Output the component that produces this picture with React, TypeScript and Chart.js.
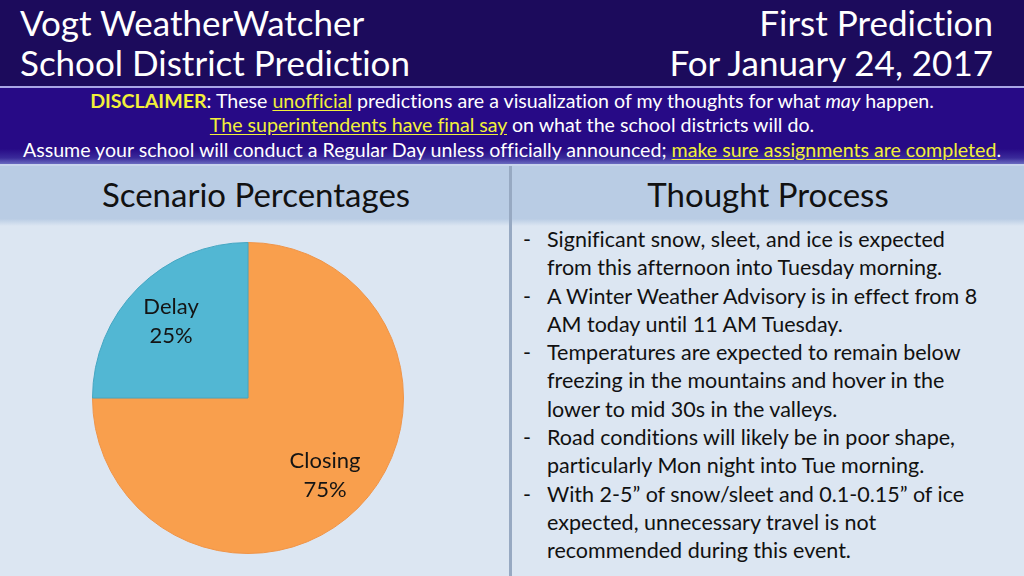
import React, { useEffect, useRef } from 'react';
import { Chart, registerables } from 'chart.js';

Chart.register(...registerables);

const categories = ['Closing', 'Delay'];
const values = [75, 25];
const sliceColors = ['#f99f4d', '#52b7d3'];
const sliceBorders = ['#ef9448', '#45a6c2'];

const titleLeft = ['Vogt WeatherWatcher', 'School District Prediction'];
const titleRight = ['First Prediction', 'For January 24, 2017'];
const panelTitles = ['Scenario Percentages', 'Thought Process'];
const bullets = [
  ['Significant snow, sleet, and ice is expected', 'from this afternoon into Tuesday morning.'],
  ['A Winter Weather Advisory is in effect from 8', 'AM today until 11 AM Tuesday.'],
  ['Temperatures are expected to remain below', 'freezing in the mountains and hover in the', 'lower to mid 30s in the valleys.'],
  ['Road conditions will likely be in poor shape,', 'particularly Mon night into Tue morning.'],
  ['With 2-5\u201d of snow/sleet and 0.1-0.15\u201d of ice', 'expected, unnecessary travel is not', 'recommended during this event.'],
];

const FONT = 'Lato, "Open Sans", sans-serif';
const YEL = '#f2f03a';

const sliceLabels = {
  id: 'sliceLabels',
  afterDatasetsDraw(chart: any) {
    const ctx = chart.ctx;
    const meta = chart.getDatasetMeta(0);
    ctx.save();
    ctx.fillStyle = '#141414';
    ctx.font = `22px ${FONT}`;
    ctx.textAlign = 'center';
    ctx.textBaseline = 'middle';
    meta.data.forEach((arc: any, i: number) => {
      const p = arc.getProps(['x', 'y', 'startAngle', 'endAngle', 'outerRadius'], true);
      const mid = (p.startAngle + p.endAngle) / 2;
      const r = p.outerRadius * 0.7;
      const cx = p.x + Math.cos(mid) * r;
      const cy = p.y + Math.sin(mid) * r;
      ctx.fillText(String(chart.data.labels[i]), cx, cy - 14);
      ctx.fillText(`${chart.data.datasets[0].data[i]}%`, cx, cy + 15);
    });
    ctx.restore();
  },
};

function PieChart() {
  const ref = useRef<HTMLCanvasElement | null>(null);
  useEffect(() => {
    if (!ref.current) return;
    const chart = new Chart(ref.current, {
      type: 'pie',
      data: {
        labels: categories,
        datasets: [
          {
            data: values,
            backgroundColor: sliceColors,
            borderColor: sliceBorders,
            borderWidth: 1,
          },
        ],
      },
      options: {
        animation: false,
        responsive: false,
        layout: { padding: 4 },
        plugins: { legend: { display: false }, tooltip: { enabled: false } },
      },
      plugins: [sliceLabels],
    });
    return () => chart.destroy();
  }, []);
  return (
    <canvas
      ref={ref}
      width={320}
      height={320}
      style={{ position: 'absolute', left: 88, top: 238, width: 320, height: 320 }}
    />
  );
}

const U = ({ children }: { children: React.ReactNode }) => (
  <span style={{ color: YEL, textDecoration: 'underline', textUnderlineOffset: 2 }}>{children}</span>
);

export default function App() {
  return (
    <div
      style={{
        position: 'fixed',
        left: 0,
        top: 0,
        width: 1024,
        height: 576,
        overflow: 'hidden',
        fontFamily: FONT,
        fontVariantLigatures: 'none',
        background: '#dce6f2',
      }}
    >
      {/* top header */}
      <div style={{ position: 'absolute', left: 0, top: 0, width: 1024, height: 86, background: '#1c0b5c' }} />
      <div style={{ position: 'absolute', left: 0, top: 86, width: 1024, height: 2, background: '#a9a6e6' }} />
      <div
        style={{
          position: 'absolute',
          left: 0,
          top: 88,
          width: 1024,
          height: 76,
          background: 'linear-gradient(#270a86 0%, #270a86 80%, #3a2a9a 92%, #6a6ac0 100%)',
        }}
      />
      <div style={{ position: 'absolute', left: 0, top: 164, width: 1024, height: 2, background: '#c8d4ec' }} />
      <div style={{ position: 'absolute', left: 20, top: 2, color: '#fff', fontSize: 35, lineHeight: '40px', whiteSpace: 'nowrap' }}>
        {titleLeft.map((t) => (
          <div key={t}>{t}</div>
        ))}
      </div>
      <div
        style={{
          position: 'absolute',
          right: 31,
          top: 2,
          color: '#fff',
          fontSize: 35,
          lineHeight: '40px',
          textAlign: 'right',
          whiteSpace: 'nowrap',
        }}
      >
        {titleRight.map((t) => (
          <div key={t}>{t}</div>
        ))}
      </div>
      {/* disclaimer */}
      <div
        style={{
          position: 'absolute',
          left: 0,
          top: 88.5,
          width: 1024,
          textAlign: 'center',
          color: '#fff',
          fontSize: 19.6,
          lineHeight: '24.7px',
          whiteSpace: 'nowrap',
        }}
      >
        <div>
          <b style={{ color: YEL }}>DISCLAIMER</b>: These <U>unofficial</U> predictions are a visualization of my thoughts
          for what <i>may</i> happen.
        </div>
        <div>
          <U>The superintendents have final say</U> on what the school districts will do.
        </div>
        <div>
          Assume your school will conduct a Regular Day unless officially announced; <U>make sure assignments are completed</U>.
        </div>
      </div>
      {/* panels */}
      {[0, 1].map((i) => (
        <div
          key={i}
          style={{
            position: 'absolute',
            left: i === 0 ? 0 : 512,
            top: 166,
            width: i === 0 ? 509 : 512,
            height: 60,
            background: 'linear-gradient(#b9cce4 0%, #b9cce4 88%, #dce6f2 100%)',
          }}
        >
          <div
            style={{
              textAlign: 'center',
              fontSize: 33,
              lineHeight: '56px',
              color: '#111',
              paddingLeft: i === 0 ? 3 : 0,
              whiteSpace: 'nowrap',
            }}
          >
            {panelTitles[i]}
          </div>
        </div>
      ))}
      <div style={{ position: 'absolute', left: 509, top: 166, width: 3, height: 410, background: '#97a9c2' }} />
      <PieChart />
      {/* bullets */}
      <div style={{ position: 'absolute', left: 523, top: 225, color: '#111', fontSize: 21.5, lineHeight: '28.3px' }}>
        {bullets.map((b, bi) => (
          <div key={bi} style={{ position: 'relative', paddingLeft: 24 }}>
            <span style={{ position: 'absolute', left: 0 }}>-</span>
            {b.map((l) => (
              <div key={l} style={{ whiteSpace: 'nowrap' }}>
                {l}
              </div>
            ))}
          </div>
        ))}
      </div>
    </div>
  );
}
